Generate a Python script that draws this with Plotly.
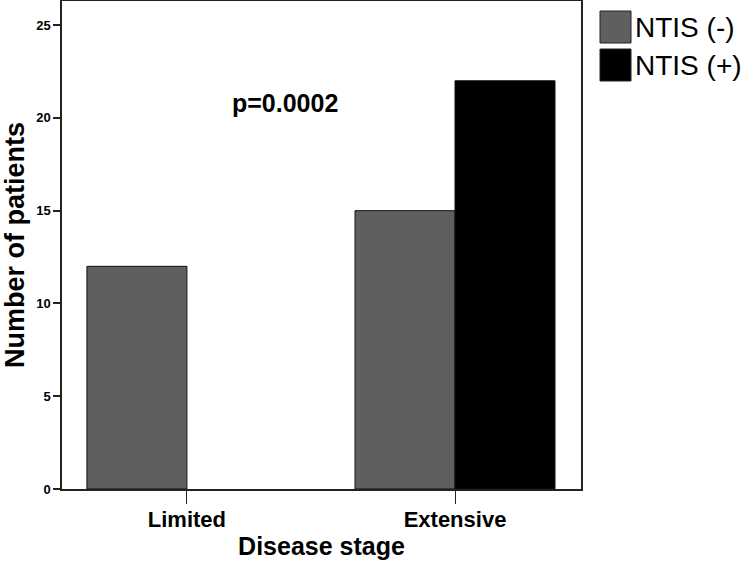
import plotly.graph_objects as go

categories = ["Limited", "Extensive"]
series_names = ["NTIS (-)", "NTIS (+)"]
ntis_neg = [12, 15]
ntis_pos = [0, 22]
y_ticks = [0, 5, 10, 15, 20, 25]
p_text = "p=0.0002"

GRAY = "#5f5f5f"
BLACK = "#000000"
FONT = "Liberation Sans, Arial, sans-serif"

fig = go.Figure()
for vals, name, col in [(ntis_neg, series_names[0], GRAY), (ntis_pos, series_names[1], BLACK)]:
    fig.add_trace(go.Bar(x=categories, y=vals, name=name,
                         marker=dict(color=col, line=dict(color="#111",
                                                          width=[0 if v == 0 else 1 for v in vals]))))

W, H = 742, 565
L, R, T, B = 62, 161, 1, 76

fig.update_layout(
    width=W, height=H,
    margin=dict(l=L, r=R, t=T, b=B, autoexpand=False),
    barmode="group", bargap=0.254, bargroupgap=0,
    plot_bgcolor="white", paper_bgcolor="white",
    showlegend=False,
    font=dict(family=FONT, color="black"),
)
fig.update_xaxes(
    range=[-0.466, 1.470], showline=True, mirror=True, linecolor="#222", linewidth=1.5,
    ticks="outside", ticklen=13, tickcolor="#222", tickwidth=1,
    tickfont=dict(size=22, weight="bold", family=FONT), ticklabelstandoff=-3,
    title=dict(text="Disease stage", font=dict(size=25, weight="bold", family=FONT), standoff=3),
    showgrid=False, automargin=False,
)
fig.update_yaxes(
    range=[0, 26.3], showline=True, mirror=True, linecolor="#222", linewidth=1.5,
    tickvals=y_ticks, ticks="outside", ticklen=7, tickcolor="#222", tickwidth=1.5,
    tickfont=dict(size=13, weight="bold", family=FONT),
    title=dict(text="Number of patients", font=dict(size=27, weight="bold", family=FONT), standoff=8),
    showgrid=False, zeroline=False, automargin=False,
)

fig.add_annotation(x=0.366, y=20.8, xref="x", yref="y", text=p_text, showarrow=False,
                   font=dict(size=25, weight="bold", family=FONT))

# legend drawn as boxes + text
pw, ph = W - L - R, H - T - B
def px(x):
    return (x - L) / pw
def py(y):
    return (H - B - y) / ph
boxes = [(11, 43), (49, 81)]
colors = [GRAY, BLACK]
for (y0, y1), c, name in zip(boxes, colors, series_names):
    fig.add_shape(type="rect", xref="paper", yref="paper",
                  x0=px(600), x1=px(631), y0=py(y1), y1=py(y0),
                  fillcolor=c, line=dict(color="#222", width=1))
    fig.add_annotation(xref="paper", yref="paper", x=px(633), y=py((y0 + y1) / 2),
                       xanchor="left", yanchor="middle", text=name, showarrow=False,
                       font=dict(size=28, family=FONT, color="black"))

fig.write_html("out.html", config={"displayModeBar": False},
               post_script="document.body.style.margin='0';")
